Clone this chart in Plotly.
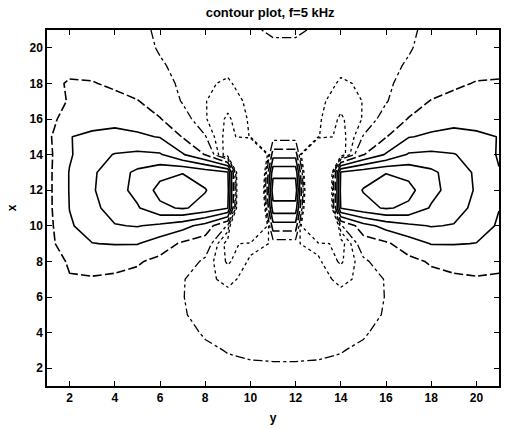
import plotly.graph_objects as go

# grid coordinates: horizontal axis labelled "y", vertical axis labelled "x"
y_grid = list(range(1, 22))
x_grid = list(range(1, 22))

# field magnitude on the grid, one row per x value (x = 1 ... 21)
field = [
    [1.20, 1.35, 1.35, 1.32, 1.28, 1.22, 1.18, 1.15, 1.13, 1.12, 1.12, 1.12, 1.12, 1.13, 1.15, 1.18, 1.22, 1.28, 1.32, 1.35, 1.35],
    [1.25, 1.42, 1.42, 1.38, 1.32, 1.25, 1.18, 1.12, 1.09, 1.07, 1.06, 1.06, 1.07, 1.09, 1.12, 1.18, 1.25, 1.32, 1.38, 1.42, 1.42],
    [1.30, 1.50, 1.50, 1.45, 1.38, 1.28, 1.18, 1.08, 0.98, 0.92, 0.90, 0.90, 0.92, 0.98, 1.08, 1.18, 1.28, 1.38, 1.45, 1.50, 1.50],
    [1.35, 1.60, 1.60, 1.55, 1.45, 1.30, 1.15, 0.95, 0.82, 0.76, 0.73, 0.73, 0.76, 0.82, 0.95, 1.15, 1.30, 1.45, 1.55, 1.60, 1.60],
    [1.40, 1.70, 1.75, 1.70, 1.55, 1.35, 1.04, 0.85, 0.72, 0.66, 0.63, 0.63, 0.66, 0.72, 0.85, 1.04, 1.35, 1.55, 1.70, 1.75, 1.70],
    [1.45, 1.80, 1.85, 1.80, 1.65, 1.40, 1.02, 0.75, 0.62, 0.62, 0.60, 0.60, 0.62, 0.62, 0.75, 1.02, 1.40, 1.65, 1.80, 1.85, 1.80],
    [1.50, 1.95, 1.95, 1.90, 1.75, 1.50, 1.05, 0.60, 0.40, 0.65, 0.70, 0.70, 0.65, 0.40, 0.60, 1.05, 1.50, 1.75, 1.90, 1.95, 1.95],
    [1.55, 2.10, 2.25, 2.20, 2.10, 1.75, 1.45, 0.85, -0.1, 0.60, 0.62, 0.62, 0.60, -0.1, 0.85, 1.45, 1.75, 2.10, 2.20, 2.25, 2.10],
    [1.60, 2.70, 2.98, 3.05, 3.05, 2.50, 1.85, 1.50, -0.3, 0.30, 0.55, 0.55, 0.30, -0.3, 1.50, 1.85, 2.50, 3.05, 3.05, 2.98, 2.70],
    [1.65, 2.90, 3.40, 3.95, 4.05, 3.80, 3.35, 2.60, 0.90, -8.0, 2.60, 2.60, -8.0, 0.90, 2.60, 3.35, 3.80, 4.05, 3.95, 3.40, 2.90],
    [1.70, 3.02, 3.75, 4.40, 4.90, 5.80, 6.10, 5.70, 5.05, -8.0, 4.60, 4.60, -8.0, 5.05, 5.70, 6.10, 5.80, 4.90, 4.40, 3.75, 3.02],
    [1.70, 3.05, 3.90, 4.60, 5.30, 6.30, 6.60, 6.05, 5.30, -8.0, 5.60, 5.60, -8.0, 5.30, 6.05, 6.60, 6.30, 5.30, 4.60, 3.90, 3.05],
    [1.70, 3.05, 3.85, 4.55, 5.20, 5.70, 5.95, 5.60, 5.10, -8.0, 4.70, 4.70, -8.0, 5.10, 5.60, 5.95, 5.70, 5.20, 4.55, 3.85, 3.05],
    [1.70, 2.90, 3.60, 4.05, 4.20, 4.10, 3.10, 1.95, -0.5, -8.0, 2.60, 2.60, -8.0, -0.5, 1.95, 3.10, 4.10, 4.20, 4.05, 3.60, 2.90],
    [1.75, 2.98, 3.15, 3.20, 3.15, 2.95, 1.95, 1.05, -0.3, 0.55, 0.60, 0.60, 0.55, -0.3, 1.05, 1.95, 2.95, 3.15, 3.20, 3.15, 2.98],
    [1.75, 2.30, 2.70, 2.80, 2.60, 2.05, 1.30, 0.55, -0.1, 0.60, 0.60, 0.60, 0.60, -0.1, 0.55, 1.30, 2.05, 2.60, 2.80, 2.70, 2.30],
    [1.70, 2.05, 2.35, 2.25, 2.05, 1.50, 0.95, 0.52, 0.20, 0.65, 0.65, 0.65, 0.65, 0.20, 0.52, 0.95, 1.50, 2.05, 2.25, 2.35, 2.05],
    [1.85, 2.05, 2.05, 1.85, 1.50, 1.20, 0.90, 0.55, 0.45, 0.70, 0.70, 0.70, 0.70, 0.45, 0.55, 0.90, 1.20, 1.50, 1.85, 2.05, 2.05],
    [1.80, 1.85, 1.70, 1.50, 1.30, 1.06, 0.85, 0.60, 0.60, 0.70, 0.72, 0.72, 0.70, 0.60, 0.60, 0.85, 1.06, 1.30, 1.50, 1.70, 1.85],
    [1.70, 1.65, 1.55, 1.40, 1.20, 0.95, 0.80, 0.65, 0.65, 0.70, 0.80, 0.80, 0.70, 0.65, 0.65, 0.80, 0.95, 1.20, 1.40, 1.55, 1.65],
    [1.60, 1.55, 1.45, 1.30, 1.12, 0.92, 0.80, 0.75, 0.75, 0.85, 1.15, 1.15, 0.85, 0.75, 0.75, 0.80, 0.92, 1.12, 1.30, 1.45, 1.55],
]

# contour levels, grouped by the line style they are drawn with
dotted_levels = (0.0, 0.5, 0.5)      # start, end, step
dashdot_levels = (1.0, 1.0, 1.0)
dashed_levels = (2.0, 2.0, 1.0)
solid_levels = (3.0, 6.0, 1.0)

tick_values = [2, 4, 6, 8, 10, 12, 14, 16, 18, 20]

fig = go.Figure()


def add_levels(levels, dash, width):
    start, end, step = levels
    fig.add_trace(go.Contour(
        x=y_grid, y=x_grid, z=field,
        autocontour=False,
        contours=dict(start=start, end=end, size=step, coloring="none"),
        line=dict(color="black", width=width, dash=dash, smoothing=0),
        showscale=False, hoverinfo="skip",
    ))


add_levels(dotted_levels, "dot", 1.3)
add_levels(dashdot_levels, "dashdot", 1.3)
add_levels(dashed_levels, "9px,3px", 1.6)
add_levels(solid_levels, "solid", 1.6)

font_family = "Liberation Sans, Arial, sans-serif"
axis_font = dict(family=font_family, size=12, color="black", weight="bold")
label_font = dict(family=font_family, size=12, color="black", weight="bold")

fig.update_layout(
    width=505, height=428,
    margin=dict(l=47, r=4, t=30, b=42),
    paper_bgcolor="white", plot_bgcolor="white",
    showlegend=False,
    title=dict(text="contour plot, f=5 kHz", x=0.535, xanchor="center", y=0.97, yanchor="middle",
               font=dict(family=font_family, size=13, color="black", weight="bold")),
    xaxis=dict(range=[1, 21], tickvals=tick_values, ticks="inside", ticklen=5, tickcolor="black",
               showline=True, linecolor="black", linewidth=1.5, mirror="ticks",
               showgrid=False, zeroline=False, tickfont=axis_font,
               title=dict(text="y", font=label_font, standoff=9)),
    yaxis=dict(range=[1, 21], tickvals=tick_values, ticks="inside", ticklen=5, tickcolor="black",
               showline=True, linecolor="black", linewidth=1.5, mirror="ticks",
               showgrid=False, zeroline=False, tickfont=axis_font,
               title=dict(text="x", font=label_font, standoff=10)),
)

fig.write_html("out.html")
